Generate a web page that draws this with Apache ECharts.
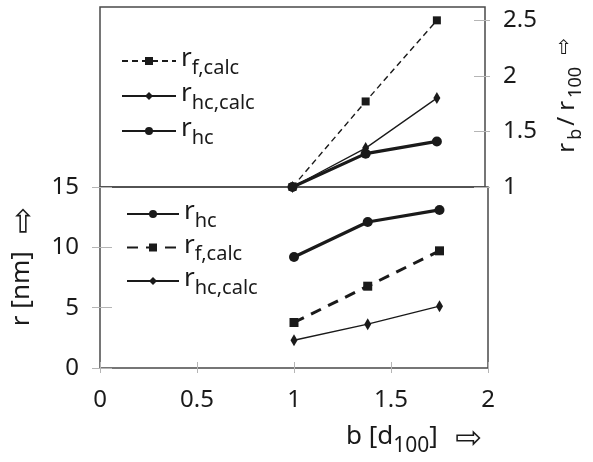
<!DOCTYPE html>
<html>
<head>
<meta charset="utf-8">
<script src="https://cdn.jsdelivr.net/npm/echarts@6/dist/echarts.min.js"></script>
<style>
  html, body { margin: 0; padding: 0; background: #fff; }
  #chart { width: 593px; height: 462px; }
</style>
</head>
<body>
<div id="chart"></div>
<script>
// x positions b [d100]
const bValues = [1, 1.38, 1.75];
// top panel: r_b / r_100
const ratioFCalc = [1, 1.77, 2.5];
const ratioHcCalc = [1, 1.35, 1.8];
const ratioHc = [1, 1.3, 1.41];
// bottom panel: r [nm]
const rHc = [9.2, 12.1, 13.1];
const rFCalc = [3.77, 6.78, 9.71];
const rHcCalc = [2.3, 3.63, 5.12];

const FONT = '"Noto Sans", "DejaVu Sans", sans-serif';
const ARROW_FONT = '"DejaVu Sans", sans-serif';
const INK = '#1a1a1a';
const FRAME = '#4a4a4a';
const TICK = '#b5b5b5';

// rich text, legends
const richLegend = {
  m: { fontFamily: FONT, fontSize: 26, color: INK, lineHeight: 30, verticalAlign: 'top' },
  s: { fontFamily: FONT, fontSize: 20, color: INK, lineHeight: 20, verticalAlign: 'top', padding: [12, 0, 0, 0] }
};
// rich text, axis names
const richName = {
  m: { fontFamily: FONT, fontSize: 26, color: INK, lineHeight: 30, verticalAlign: 'top' },
  s: { fontFamily: FONT, fontSize: 21, color: INK, lineHeight: 21, verticalAlign: 'top', padding: [12, 0, 0, 0] },
  a: { fontFamily: ARROW_FONT, fontSize: 32, color: INK, lineHeight: 30, verticalAlign: 'top', padding: [0, 0, 0, 4] }
};
const richRight = {
  m: { fontFamily: FONT, fontSize: 24, color: INK, lineHeight: 28, verticalAlign: 'top', padding: [0, 3, 0, 3] },
  s: { fontFamily: FONT, fontSize: 18, color: INK, lineHeight: 17, verticalAlign: 'top', padding: [12, 0, 0, 0] },
  a: { fontFamily: ARROW_FONT, fontSize: 20, color: INK, lineHeight: 28, verticalAlign: 'top', padding: [0, 0, 0, 12] }
};

const labelOf = {
  rf_top: '{m|r}{s|f,calc}', rhcc_top: '{m|r}{s|hc,calc}', rhc_top: '{m|r}{s|hc}',
  rf_bot: '{m|r}{s|f,calc}', rhcc_bot: '{m|r}{s|hc,calc}', rhc_bot: '{m|r}{s|hc}'
};

const pairs = (ys) => bValues.map((b, i) => [b, ys[i]]);

const styleHc = { lineStyle: { color: INK, width: 3.2 }, itemStyle: { color: INK }, symbol: 'circle', symbolSize: 10 };
const styleHcCalc = { lineStyle: { color: INK, width: 1.3 }, itemStyle: { color: INK }, symbol: 'diamond', symbolSize: [7, 12] };
const styleFTop = { lineStyle: { color: INK, width: 1.4, type: [6, 4] }, itemStyle: { color: INK }, symbol: 'rect', symbolSize: 8 };
const styleFBot = { lineStyle: { color: INK, width: 3, type: [11, 8] }, itemStyle: { color: INK }, symbol: 'rect', symbolSize: 9 };

const mk = (name, xi, yi, data, st) => Object.assign({
  name: name, type: 'line', xAxisIndex: xi, yAxisIndex: yi, data: data, z: 3
}, st);

const noLine = { show: false, onZero: false };

const chart = echarts.init(document.getElementById('chart'));

// ticks cross the frame: axis pulled inside with offset, tick drawn long outward
chart.setOption({
  animation: false,
  textStyle: { fontFamily: FONT },
  grid: [
    { left: 100, right: 105, top: 7, height: 180, show: true, borderColor: FRAME, borderWidth: 1.5 },
    { left: 100, right: 105, top: 187, height: 181, show: true, borderColor: FRAME, borderWidth: 1.5 }
  ],
  legend: [
    {
      data: ['rf_top', 'rhcc_top', 'rhc_top'], orient: 'vertical', left: 116, top: 41,
      itemWidth: 54, itemHeight: 10, itemGap: 3, selectedMode: false,
      formatter: (n) => labelOf[n], textStyle: { rich: richLegend }
    },
    {
      data: ['rhc_bot', 'rf_bot', 'rhcc_bot'], orient: 'vertical', left: 121, top: 194,
      itemWidth: 52, itemHeight: 10, itemGap: 1.5, selectedMode: false,
      formatter: (n) => labelOf[n], textStyle: { rich: richLegend }
    }
  ],
  xAxis: [
    {
      gridIndex: 1, type: 'value', position: 'bottom', offset: -6, min: 0, max: 2, interval: 0.5,
      axisLine: noLine, splitLine: { show: false },
      axisTick: { show: true, length: 11, lineStyle: { color: TICK } },
      axisLabel: { margin: 26, fontSize: 24, color: INK, fontFamily: FONT },
      name: '{m|b [d}{s|100}{m|]  }{a|⇨}', nameLocation: 'middle', nameGap: 62,
      nameTextStyle: { rich: richName, padding: [0, 0, 0, 240] }
    },
    { gridIndex: 0, type: 'value', position: 'bottom', min: 0, max: 2, show: false, axisLine: noLine }
  ],
  yAxis: [
    {
      gridIndex: 1, type: 'value', position: 'left', offset: -12, min: 0, max: 15, interval: 5,
      axisLine: noLine, splitLine: { show: false },
      axisTick: { show: true, length: 20, lineStyle: { color: TICK } },
      axisLabel: { margin: 33, fontSize: 24, color: INK, fontFamily: FONT },
      name: '{m|r [nm]  }{a|⇨}', nameLocation: 'middle', nameRotate: 90, nameGap: 68,
      nameTextStyle: { rich: richName, padding: [0, 0, 0, 22] }
    },
    {
      gridIndex: 0, type: 'value', position: 'right', offset: -11, min: 1, max: 2.62, interval: 0.5,
      axisLine: noLine, splitLine: { show: false },
      axisTick: { show: true, length: 16, lineStyle: { color: TICK } },
      axisLabel: { margin: 29, fontSize: 24, color: INK, fontFamily: FONT, showMaxLabel: false },
      name: '{m|r}{s|b}{m|/}{m|r}{s|100}{a|⇨}', nameLocation: 'middle', nameRotate: 90, nameGap: 81,
      nameTextStyle: { rich: richRight }
    }
  ],
  series: [
    mk('rf_top', 1, 1, pairs(ratioFCalc), styleFTop),
    mk('rhcc_top', 1, 1, pairs(ratioHcCalc), styleHcCalc),
    mk('rhc_top', 1, 1, pairs(ratioHc), styleHc),
    mk('rhc_bot', 0, 0, pairs(rHc), styleHc),
    mk('rf_bot', 0, 0, pairs(rFCalc), styleFBot),
    mk('rhcc_bot', 0, 0, pairs(rHcCalc), styleHcCalc)
  ]
});
</script>
</body>
</html>
